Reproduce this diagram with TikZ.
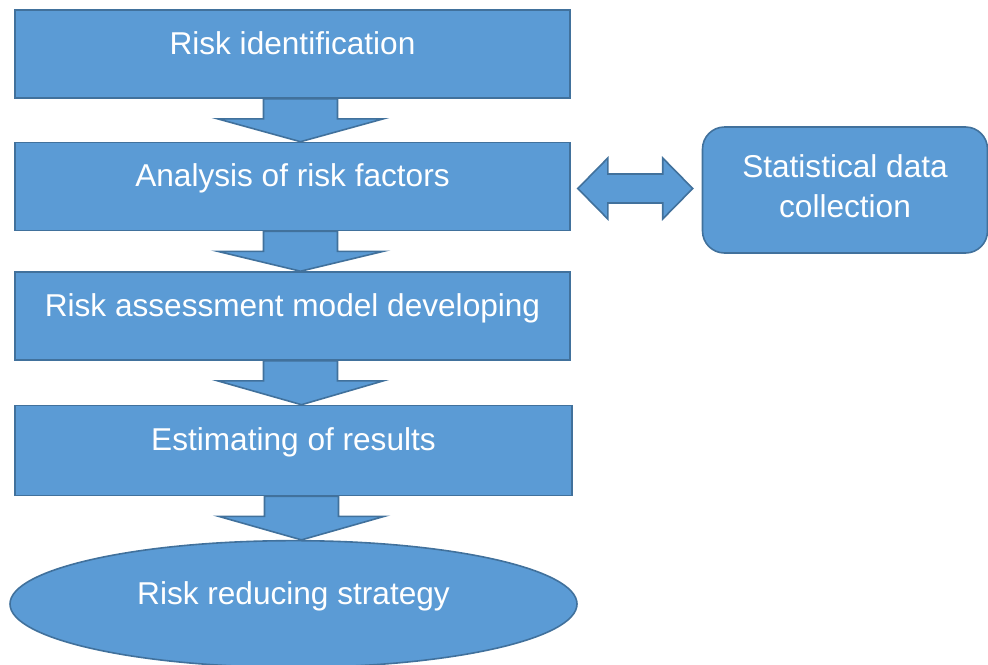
\documentclass[tikz,border=0pt]{standalone}
\usepackage{fontspec}
\setmainfont{Liberation Sans}
\usetikzlibrary{calc,shapes.geometric}

\definecolor{boxfill}{RGB}{91,155,213}
\definecolor{boxline}{RGB}{65,113,156}

\tikzset{
  stagebox/.style={draw=boxline,fill=boxfill,line width=1.2pt,text=white,inner sep=0pt,
    minimum width=416.25pt,minimum height=66pt,text height=0.75em,text depth=0.75em,
    font=\fontsize{23.7}{30}\selectfont},
  flowarrow/.style={draw=boxline,fill=boxfill,line width=1.2pt,line join=miter}
}

% block arrow from one stage down to the next
\newcommand\stagearrow[2]{%
  \draw[flowarrow] ($(#1.south)+(-29,0)$) -- ($(#1.south)+(-29,20)$) -- ($(#1.south)+(-75,20)$)
    -- ($(#2.north)+(8,0)$) -- ($(#1.south)+(91,20)$) -- ($(#1.south)+(45,20)$)
    -- ($(#1.south)+(45,0)$) -- cycle ;}

\begin{document}
\begin{tikzpicture}[x=0.75pt,y=0.75pt,yscale=-1,xscale=1]
\useasboundingbox (0,0) rectangle (988,664);

%Shape: Rectangle [identification]
\node [stagebox] (ident) at (292.5,54) {Risk identification};
%Shape: Rectangle [analysis]
\node [stagebox] (analysis) at (292.5,186.5) {Analysis of risk factors};
%Shape: Rectangle [model]
\node [stagebox] (model) at (292.5,316) {Risk assessment model developing};
%Shape: Rectangle [estimate]
\node [stagebox,minimum width=417.75pt,minimum height=67.5pt] (estimate) at (293.5,450.5) {Estimating of results};
%Shape: Ellipse [strategy]
\node [stagebox,ellipse,minimum width=425.25pt,minimum height=95pt] (strategy) at (293.5,604) {Risk reducing strategy};
%Shape: Rounded Rectangle [statistics]
\node [stagebox,rounded corners=16.5pt,minimum width=213.75pt,minimum height=94.5pt,
  text height=,text depth=6pt,align=center] (stats) at (845,190) {Statistical data\\collection};

%Block Arrows
\stagearrow{ident}{analysis}
\stagearrow{analysis}{model}
\stagearrow{model}{estimate}
\stagearrow{estimate}{strategy}

%Left Right Arrow
\coordinate (dl) at ($(analysis.east)+(7,2)$);
\coordinate (dr) at ($(dl -| stats.west)+(-9,0)$);
\draw[flowarrow] (dl) -- ($(dl)+(30,-30.5)$) -- ($(dl)+(30,-14.5)$) -- ($(dr)+(-30,-14.5)$)
  -- ($(dr)+(-30,-30.5)$) -- (dr) -- ($(dr)+(-30,30.5)$) -- ($(dr)+(-30,14.5)$)
  -- ($(dl)+(30,14.5)$) -- ($(dl)+(30,30.5)$) -- cycle ;

\end{tikzpicture}
\end{document}
